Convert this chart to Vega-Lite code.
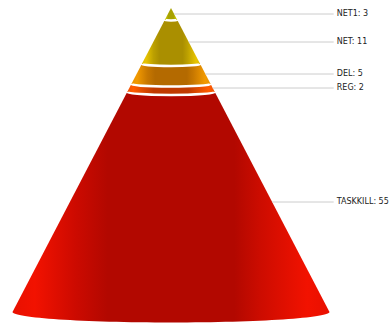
{
  "$schema": "https://vega.github.io/schema/vega-lite/v6.json",
  "width": 389,
  "height": 323,
  "autosize": "none",
  "padding": 0,
  "config": {"view": {"stroke": null}, "axis": {"disable": true}},
  "data": {"values": [
    {"name": "NET1", "value": 3},
    {"name": "NET", "value": 11},
    {"name": "DEL", "value": 5},
    {"name": "REG", "value": 2},
    {"name": "TASKKILL", "value": 55}
  ]},
  "transform": [
    {"window": [{"op": "sum", "field": "value", "as": "cum"}], "frame": [null, 0]},
    {"calculate": "datum.cum - datum.value", "as": "top"},
    {"calculate": "datum.cum - datum.value / 2", "as": "mid"},
    {"calculate": "datum.name + ': ' + datum.value", "as": "label"}
  ],
  "layer": [
    {
      "transform": [{"filter": "datum.name == 'TASKKILL'"}, {"fold": ["top", "cum"], "as": ["k", "pos"]}, {"calculate": "-datum.pos", "as": "neg"}],
      "mark": {"type": "area", "orient": "horizontal", "color": {"gradient": "linear", "x1": 0, "x2": 1, "y1": 0, "y2": 0, "stops": [
        {"offset": 0, "color": "#e81000"}, {"offset": 0.07, "color": "#f21200"}, {"offset": 0.2, "color": "#cc0a00"}, {"offset": 0.3, "color": "#b20800"},
        {"offset": 0.7, "color": "#b20800"}, {"offset": 0.78, "color": "#cc0c00"}, {"offset": 0.93, "color": "#f21200"}, {"offset": 1, "color": "#e81000"}]}},
      "encoding": {
        "y": {"field": "pos", "type": "quantitative", "scale": {"domain": [-2, 78.75], "reverse": true, "nice": false, "zero": false}},
        "x": {"field": "neg", "type": "quantitative", "scale": {"domain": [-82, 104.53], "nice": false, "zero": false}},
        "x2": {"field": "pos"}
      }
    },
    {
      "transform": [{"filter": "datum.name == 'TASKKILL'"}],
      "mark": {"type": "point", "filled": true, "opacity": 1, "shape": "M-1,0C-1,0.0365,-0.5523,0.066,0,0.066C0.5523,0.066,1,0.0365,1,0", "stroke": "white", "strokeWidth": 0, "fill": {"gradient": "linear", "x1": 0, "x2": 1, "y1": 0, "y2": 0, "stops": [
        {"offset": 0, "color": "#e81000"}, {"offset": 0.07, "color": "#f21200"}, {"offset": 0.2, "color": "#cc0a00"}, {"offset": 0.3, "color": "#b20800"},
        {"offset": 0.7, "color": "#b20800"}, {"offset": 0.78, "color": "#cc0c00"}, {"offset": 0.93, "color": "#f21200"}, {"offset": 1, "color": "#e81000"}]}},
      "encoding": {
        "y": {"field": "cum", "type": "quantitative", "scale": {"domain": [-2, 78.75], "reverse": true, "nice": false, "zero": false}},
        "x": {"datum": 0, "type": "quantitative", "scale": {"domain": [-82, 104.53], "nice": false, "zero": false}},
        "size": {"field": "cum", "type": "quantitative", "legend": null, "scale": {"type": "pow", "exponent": 2, "domain": [0, 76], "range": [0, 100489], "nice": false, "zero": false}}
      }
    },
    {
      "transform": [{"filter": "datum.name == 'REG'"}, {"fold": ["top", "cum"], "as": ["k", "pos"]}, {"calculate": "-datum.pos", "as": "neg"}],
      "mark": {"type": "area", "orient": "horizontal", "color": {"gradient": "linear", "x1": 0, "x2": 1, "y1": 0, "y2": 0, "stops": [
        {"offset": 0, "color": "#f05000"}, {"offset": 0.07, "color": "#ff5c00"}, {"offset": 0.2, "color": "#d84800"}, {"offset": 0.3, "color": "#c03a00"},
        {"offset": 0.7, "color": "#c03a00"}, {"offset": 0.78, "color": "#d84800"}, {"offset": 0.93, "color": "#ff5c00"}, {"offset": 1, "color": "#f05000"}]}},
      "encoding": {
        "y": {"field": "pos", "type": "quantitative", "scale": {"domain": [-2, 78.75], "reverse": true, "nice": false, "zero": false}},
        "x": {"field": "neg", "type": "quantitative", "scale": {"domain": [-82, 104.53], "nice": false, "zero": false}},
        "x2": {"field": "pos"}
      }
    },
    {
      "transform": [{"filter": "datum.name == 'REG'"}],
      "mark": {"type": "point", "filled": true, "opacity": 1, "shape": "M-1,0C-1,0.0365,-0.5523,0.066,0,0.066C0.5523,0.066,1,0.0365,1,0", "stroke": "white", "strokeWidth": 2.5, "fill": {"gradient": "linear", "x1": 0, "x2": 1, "y1": 0, "y2": 0, "stops": [
        {"offset": 0, "color": "#f05000"}, {"offset": 0.07, "color": "#ff5c00"}, {"offset": 0.2, "color": "#d84800"}, {"offset": 0.3, "color": "#c03a00"},
        {"offset": 0.7, "color": "#c03a00"}, {"offset": 0.78, "color": "#d84800"}, {"offset": 0.93, "color": "#ff5c00"}, {"offset": 1, "color": "#f05000"}]}},
      "encoding": {
        "y": {"field": "cum", "type": "quantitative", "scale": {"domain": [-2, 78.75], "reverse": true, "nice": false, "zero": false}},
        "x": {"datum": 0, "type": "quantitative", "scale": {"domain": [-82, 104.53], "nice": false, "zero": false}},
        "size": {"field": "cum", "type": "quantitative", "legend": null, "scale": {"type": "pow", "exponent": 2, "domain": [0, 76], "range": [0, 100489], "nice": false, "zero": false}}
      }
    },
    {
      "transform": [{"filter": "datum.name == 'DEL'"}, {"fold": ["top", "cum"], "as": ["k", "pos"]}, {"calculate": "-datum.pos", "as": "neg"}],
      "mark": {"type": "area", "orient": "horizontal", "color": {"gradient": "linear", "x1": 0, "x2": 1, "y1": 0, "y2": 0, "stops": [
        {"offset": 0, "color": "#e89200"}, {"offset": 0.07, "color": "#f29a00"}, {"offset": 0.2, "color": "#c87800"}, {"offset": 0.3, "color": "#b46a00"},
        {"offset": 0.7, "color": "#b46a00"}, {"offset": 0.78, "color": "#c87800"}, {"offset": 0.93, "color": "#f29a00"}, {"offset": 1, "color": "#e89200"}]}},
      "encoding": {
        "y": {"field": "pos", "type": "quantitative", "scale": {"domain": [-2, 78.75], "reverse": true, "nice": false, "zero": false}},
        "x": {"field": "neg", "type": "quantitative", "scale": {"domain": [-82, 104.53], "nice": false, "zero": false}},
        "x2": {"field": "pos"}
      }
    },
    {
      "transform": [{"filter": "datum.name == 'DEL'"}],
      "mark": {"type": "point", "filled": true, "opacity": 1, "shape": "M-1,0C-1,0.0365,-0.5523,0.066,0,0.066C0.5523,0.066,1,0.0365,1,0", "stroke": "white", "strokeWidth": 2.5, "fill": {"gradient": "linear", "x1": 0, "x2": 1, "y1": 0, "y2": 0, "stops": [
        {"offset": 0, "color": "#e89200"}, {"offset": 0.07, "color": "#f29a00"}, {"offset": 0.2, "color": "#c87800"}, {"offset": 0.3, "color": "#b46a00"},
        {"offset": 0.7, "color": "#b46a00"}, {"offset": 0.78, "color": "#c87800"}, {"offset": 0.93, "color": "#f29a00"}, {"offset": 1, "color": "#e89200"}]}},
      "encoding": {
        "y": {"field": "cum", "type": "quantitative", "scale": {"domain": [-2, 78.75], "reverse": true, "nice": false, "zero": false}},
        "x": {"datum": 0, "type": "quantitative", "scale": {"domain": [-82, 104.53], "nice": false, "zero": false}},
        "size": {"field": "cum", "type": "quantitative", "legend": null, "scale": {"type": "pow", "exponent": 2, "domain": [0, 76], "range": [0, 100489], "nice": false, "zero": false}}
      }
    },
    {
      "transform": [{"filter": "datum.name == 'NET'"}, {"fold": ["top", "cum"], "as": ["k", "pos"]}, {"calculate": "-datum.pos", "as": "neg"}],
      "mark": {"type": "area", "orient": "horizontal", "color": {"gradient": "linear", "x1": 0, "x2": 1, "y1": 0, "y2": 0, "stops": [
        {"offset": 0, "color": "#dcbc00"}, {"offset": 0.07, "color": "#e8c400"}, {"offset": 0.2, "color": "#bca000"}, {"offset": 0.3, "color": "#aa8f00"},
        {"offset": 0.7, "color": "#aa8f00"}, {"offset": 0.78, "color": "#bca000"}, {"offset": 0.93, "color": "#e8c400"}, {"offset": 1, "color": "#dcbc00"}]}},
      "encoding": {
        "y": {"field": "pos", "type": "quantitative", "scale": {"domain": [-2, 78.75], "reverse": true, "nice": false, "zero": false}},
        "x": {"field": "neg", "type": "quantitative", "scale": {"domain": [-82, 104.53], "nice": false, "zero": false}},
        "x2": {"field": "pos"}
      }
    },
    {
      "transform": [{"filter": "datum.name == 'NET'"}],
      "mark": {"type": "point", "filled": true, "opacity": 1, "shape": "M-1,0C-1,0.0365,-0.5523,0.066,0,0.066C0.5523,0.066,1,0.0365,1,0", "stroke": "white", "strokeWidth": 2.5, "fill": {"gradient": "linear", "x1": 0, "x2": 1, "y1": 0, "y2": 0, "stops": [
        {"offset": 0, "color": "#dcbc00"}, {"offset": 0.07, "color": "#e8c400"}, {"offset": 0.2, "color": "#bca000"}, {"offset": 0.3, "color": "#aa8f00"},
        {"offset": 0.7, "color": "#aa8f00"}, {"offset": 0.78, "color": "#bca000"}, {"offset": 0.93, "color": "#e8c400"}, {"offset": 1, "color": "#dcbc00"}]}},
      "encoding": {
        "y": {"field": "cum", "type": "quantitative", "scale": {"domain": [-2, 78.75], "reverse": true, "nice": false, "zero": false}},
        "x": {"datum": 0, "type": "quantitative", "scale": {"domain": [-82, 104.53], "nice": false, "zero": false}},
        "size": {"field": "cum", "type": "quantitative", "legend": null, "scale": {"type": "pow", "exponent": 2, "domain": [0, 76], "range": [0, 100489], "nice": false, "zero": false}}
      }
    },
    {
      "transform": [{"filter": "datum.name == 'NET1'"}, {"fold": ["top", "cum"], "as": ["k", "pos"]}, {"calculate": "-datum.pos", "as": "neg"}],
      "mark": {"type": "area", "orient": "horizontal", "color": {"gradient": "linear", "x1": 0, "x2": 1, "y1": 0, "y2": 0, "stops": [
        {"offset": 0, "color": "#c4c000"}, {"offset": 0.07, "color": "#cccc00"}, {"offset": 0.2, "color": "#b4b000"}, {"offset": 0.3, "color": "#a8a200"},
        {"offset": 0.7, "color": "#a8a200"}, {"offset": 0.78, "color": "#b4b000"}, {"offset": 0.93, "color": "#cccc00"}, {"offset": 1, "color": "#c4c000"}]}},
      "encoding": {
        "y": {"field": "pos", "type": "quantitative", "scale": {"domain": [-2, 78.75], "reverse": true, "nice": false, "zero": false}},
        "x": {"field": "neg", "type": "quantitative", "scale": {"domain": [-82, 104.53], "nice": false, "zero": false}},
        "x2": {"field": "pos"}
      }
    },
    {
      "transform": [{"filter": "datum.name == 'NET1'"}],
      "mark": {"type": "point", "filled": true, "opacity": 1, "shape": "M-1,0C-1,0.0365,-0.5523,0.066,0,0.066C0.5523,0.066,1,0.0365,1,0", "stroke": "white", "strokeWidth": 2.5, "fill": {"gradient": "linear", "x1": 0, "x2": 1, "y1": 0, "y2": 0, "stops": [
        {"offset": 0, "color": "#c4c000"}, {"offset": 0.07, "color": "#cccc00"}, {"offset": 0.2, "color": "#b4b000"}, {"offset": 0.3, "color": "#a8a200"},
        {"offset": 0.7, "color": "#a8a200"}, {"offset": 0.78, "color": "#b4b000"}, {"offset": 0.93, "color": "#cccc00"}, {"offset": 1, "color": "#c4c000"}]}},
      "encoding": {
        "y": {"field": "cum", "type": "quantitative", "scale": {"domain": [-2, 78.75], "reverse": true, "nice": false, "zero": false}},
        "x": {"datum": 0, "type": "quantitative", "scale": {"domain": [-82, 104.53], "nice": false, "zero": false}},
        "size": {"field": "cum", "type": "quantitative", "legend": null, "scale": {"type": "pow", "exponent": 2, "domain": [0, 76], "range": [0, 100489], "nice": false, "zero": false}}
      }
    },
    {
      "mark": {"type": "rule", "color": "#cccccc", "strokeWidth": 1},
      "encoding": {
        "y": {"field": "mid", "type": "quantitative", "scale": {"domain": [-2, 78.75], "reverse": true, "nice": false, "zero": false}},
        "x": {"field": "mid", "type": "quantitative", "scale": {"domain": [-82, 104.53], "nice": false, "zero": false}},
        "x2": {"datum": 78}
      }
    },
    {
      "mark": {"type": "text", "align": "left", "baseline": "middle", "font": "DejaVu Sans", "fontSize": 8, "color": "#222222"},
      "encoding": {
        "y": {"field": "mid", "type": "quantitative", "scale": {"domain": [-2, 78.75], "reverse": true, "nice": false, "zero": false}},
        "x": {"datum": 79.5, "type": "quantitative", "scale": {"domain": [-82, 104.53], "nice": false, "zero": false}},
        "text": {"field": "label"}
      }
    }
  ]
}
